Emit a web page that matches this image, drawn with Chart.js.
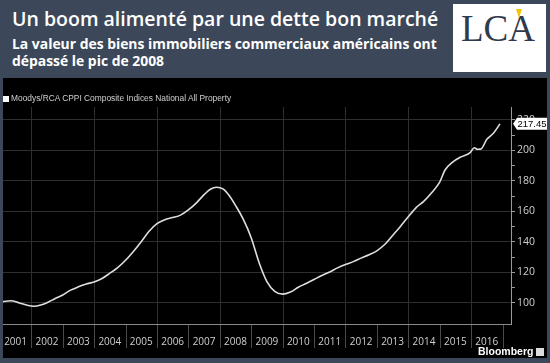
<!DOCTYPE html>
<html>
<head>
<meta charset="utf-8">
<script src="https://cdn.jsdelivr.net/npm/chart.js@4"></script>
<style>
  body { margin: 0; width: 550px; height: 363px; background: #3c4859; position: relative; overflow: hidden; font-family: "Open Sans", sans-serif; }
  .title { position: absolute; left: 12px; top: 5px; color: #fff; font-size: 19.5px; font-weight: 600; white-space: nowrap; }
  .sub { position: absolute; left: 12px; top: 35px; color: #fff; font-size: 13.9px; font-weight: 700; line-height: 17px; white-space: nowrap; }
  .logo { position: absolute; left: 453px; top: 4px; width: 93px; height: 68px; background: #fff; }
  .logo span { position: absolute; left: 8px; top: 3px; font-family: "Liberation Serif", serif; font-size: 37px; color: #2f3a4c; letter-spacing: 0px; }
  .logo i { position: absolute; left: 63px; top: 5px; width: 0; height: 0; border-left: 3px solid transparent; border-right: 3px solid transparent; border-top: 9px solid #f2c500; }
  .panel { position: absolute; left: 3px; top: 78px; width: 544px; height: 280px; background: #000; }
  .legend { position: absolute; left: 3px; top: 93px; color: #cfcfcf; font-family: "Liberation Sans", sans-serif; font-size: 8.4px; white-space: nowrap; }
  .legend b { display: inline-block; width: 6px; height: 6px; background: #fff; margin-right: 2px; vertical-align: -0.5px; }
  .bbg { position: absolute; left: 478px; top: 345px; color: #fff; font-family: "Liberation Sans", sans-serif; font-weight: 700; font-size: 10.5px; }
  .bbg i { display: inline-block; width: 8px; height: 8px; background: #ddd; margin-left: 3px; vertical-align: -1px; }
  canvas { position: absolute; left: 3px; top: 78px; }
</style>
</head>
<body>
<div class="title">Un boom alimenté par une dette bon marché</div>
<div class="sub">La valeur des biens immobiliers commerciaux américains ont<br>dépassé le pic de 2008</div>
<div class="logo"><span>LCA</span><i></i></div>
<div class="panel"></div>
<canvas id="chart" width="544" height="280"></canvas>
<div class="legend"><b></b>Moodys/RCA CPPI Composite Indices National All Property</div>
<div class="bbg">Bloomberg<i></i></div>
<script>
// Moody's/RCA CPPI national all property (decimal years)
const dates = [2001.1, 2001.35, 2001.6, 2001.85, 2002.08, 2002.3, 2002.5, 2002.75, 2003.0, 2003.25, 2003.5, 2003.75,
  2004.0, 2004.25, 2004.5, 2004.75, 2005.0, 2005.25, 2005.5, 2005.75, 2006.0, 2006.25, 2006.5, 2006.75,
  2007.0, 2007.25, 2007.5, 2007.7, 2007.9, 2008.1, 2008.3, 2008.5, 2008.75, 2009.0, 2009.25, 2009.5, 2009.75,
  2010.0, 2010.25, 2010.5, 2010.75, 2011.0, 2011.25, 2011.5, 2011.75, 2012.0, 2012.25, 2012.5, 2012.75,
  2013.0, 2013.25, 2013.5, 2013.75, 2014.0, 2014.25, 2014.5, 2014.75, 2015.0, 2015.17, 2015.4, 2015.65, 2015.97,
  2016.1, 2016.2, 2016.31, 2016.5, 2016.71, 2016.92];
const values = [100.9, 101.4, 100.2, 98.6, 97.8, 98.6, 100.2, 102.8, 105.2, 108.4, 110.6, 112.4,
  113.8, 116, 119.5, 123.2, 128, 133.8, 140.2, 147, 152, 154.6, 156, 157.6,
  161, 165.5, 171, 174.6, 175.9, 174.8, 170.5, 164, 154.8, 142.8, 126.5, 114, 107.6,
  105.8, 107.2, 110.3, 112.8, 115.4, 118, 120.3, 123, 125.2, 127.1, 129.4, 131.6,
  134.2, 138.3, 144.2, 150.2, 156.5, 162.5, 166.8, 172.4, 179.2, 187.2, 192.2, 195.5, 198.6,
  201.8, 200.8, 200.9, 207.3, 211.3, 217.45];
const years = [2001, 2002, 2003, 2004, 2005, 2006, 2007, 2008, 2009, 2010, 2011, 2012, 2013, 2014, 2015, 2016];
const yTicks = [100, 110, 120, 130, 140, 150, 160, 170, 180, 190, 200, 210, 220];

// year separators, labels and even-year gridlines
const yearAxis = {
  id: 'yearAxis',
  beforeDatasetsDraw(chart) {
    const { ctx, chartArea: a, scales: { x } } = chart;
    ctx.save();
    ctx.strokeStyle = '#2e2e2e';
    ctx.lineWidth = 1;
    years.forEach(y => {
      if ((y + 1) % 2 === 0) {
        const px = Math.round(x.getPixelForValue(y + 1)) + 0.5;
        ctx.beginPath(); ctx.moveTo(px, a.top); ctx.lineTo(px, a.bottom); ctx.stroke();
      }
    });
    ctx.restore();
  },
  afterDraw(chart) {
    const { ctx, chartArea: a, scales: { x, y } } = chart;
    ctx.save();
    ctx.strokeStyle = '#8a8a8a';
    ctx.beginPath(); ctx.moveTo(0, a.bottom + 0.5); ctx.lineTo(a.right, a.bottom + 0.5); ctx.stroke();
    ctx.strokeStyle = '#4a4a4a';
    ctx.fillStyle = '#cfcfcf';
    ctx.font = '10px "Open Sans", sans-serif';
    ctx.textAlign = 'center';
    ctx.textBaseline = 'middle';
    years.forEach(yr => {
      const p1 = x.getPixelForValue(yr + 1);
      const px = Math.round(p1) + 0.5;
      ctx.beginPath(); ctx.moveTo(px, a.bottom + 1); ctx.lineTo(px, a.bottom + 24); ctx.stroke();
      const mid = (x.getPixelForValue(yr) + p1) / 2;
      ctx.fillText(String(yr), Math.max(mid, 12), a.bottom + 18);
    });
    // last value tag
    const last = values[values.length - 1];
    const py = y.getPixelForValue(last);
    const x0 = a.right + 2;
    ctx.fillStyle = '#fff';
    ctx.beginPath();
    ctx.moveTo(x0, py); ctx.lineTo(x0 + 4, py - 6); ctx.lineTo(x0 + 34, py - 6);
    ctx.lineTo(x0 + 34, py + 6); ctx.lineTo(x0 + 4, py + 6); ctx.closePath(); ctx.fill();
    ctx.fillStyle = '#000';
    ctx.textAlign = 'left';
    ctx.font = '9.5px "Liberation Sans", sans-serif';
    ctx.fillText(last.toFixed(2), x0 + 4.5, py + 0.5);
    ctx.restore();
  }
};

new Chart(document.getElementById('chart'), {
  type: 'line',
  data: {
    datasets: [{
      data: dates.map((d, i) => ({ x: d, y: values[i] })),
      borderColor: '#dedede',
      borderWidth: 1.6,
      pointRadius: 0,
      cubicInterpolationMode: 'monotone'
    }]
  },
  options: {
    responsive: false,
    animation: false,
    layout: { padding: { top: 29, bottom: 34, left: 0, right: 0 } },
    plugins: { legend: { display: false }, tooltip: { enabled: false } },
    scales: {
      x: { type: 'linear', min: 2001.1, max: 2017.27, display: false },
      y: {
        position: 'right',
        min: 86.2,
        max: 228.5,
        afterBuildTicks: s => { s.ticks = yTicks.map(v => ({ value: v })); },
        afterFit: s => { s.width = 36; },
        border: { color: '#9a9a9a' },
        grid: {
          color: c => (c.tick && c.tick.value % 20 === 0) ? '#2e2e2e' : 'transparent',
          tickColor: '#9a9a9a',
          tickLength: 4
        },
        ticks: {
          color: '#cfcfcf',
          font: { size: 10.5, family: '"Open Sans", sans-serif' },
          padding: 2,
          callback: v => v % 20 === 0 ? v : ''
        }
      }
    }
  },
  plugins: [yearAxis]
});
</script>
</body>
</html>
